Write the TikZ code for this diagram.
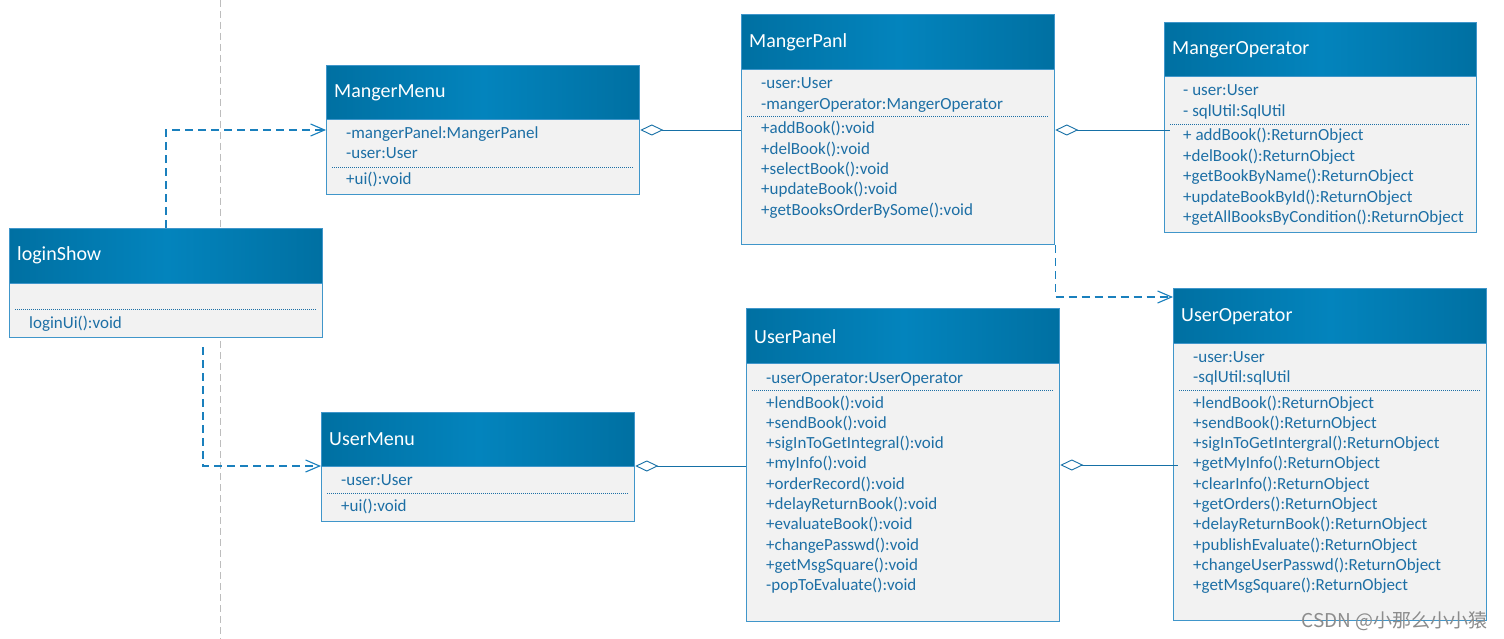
\documentclass[tikz,border=0pt]{standalone}
\usepackage{fontspec}
\setmainfont{Carlito}
\newfontfamily\cjkfont{Noto Sans CJK SC}
\usetikzlibrary{arrows.meta,calc}
\definecolor{boxline}{HTML}{4096CA}
\definecolor{hedge}{HTML}{0070A2}
\definecolor{hmid}{HTML}{0384BD}
\definecolor{bodyfill}{HTML}{F2F2F2}
\definecolor{txt}{HTML}{1D6FA5}
\definecolor{conn}{HTML}{1A80BD}
\definecolor{aggc}{HTML}{1670A6}
\definecolor{guide}{HTML}{BDBDBD}
\begin{document}
\begin{tikzpicture}[x=1pt,y=-1pt,
  hdr/.style={rectangle, draw=boxline, line width=1.3pt, left color=hedge, right color=hedge, middle color=hmid, inner sep=0pt, anchor=north west},
  bodybox/.style={rectangle, draw=boxline, line width=1.3pt, fill=bodyfill, inner sep=0pt, anchor=north west},
  ttl/.style={text=white, font=\fontsize{20}{24}\selectfont, anchor=west, inner sep=0pt},
  mem/.style={text=txt, font=\fontsize{17}{20}\selectfont, anchor=base west, inner sep=0pt},
  sep/.style={draw=txt, line width=0.7pt, dash pattern=on 1pt off 1pt},
  dep/.style={draw=conn, line width=1.1pt, dash pattern=on 8pt off 5pt, -{Straight Barb[length=14pt,width=12pt]}},
  agg/.style={draw=aggc, line width=0.9pt, {Diamond[open,length=23pt,width=11pt,fill=white]}-}
]
\useasboundingbox (0,0) rectangle (1504,639);
\fill[white] (0,0) rectangle (1504,639);
% guide line
\draw[guide, line width=1pt, dash pattern=on 7pt off 4pt] (220,0) -- (220,639);

% ---------- loginShow
\node[hdr, minimum width=313pt, minimum height=55pt] (ls-h) at (9,228) {};
\node[ttl] (ls-t) at (17,255.5) {loginShow};
\node[bodybox, minimum width=313pt, minimum height=54pt] (ls-b) at (9,283) {};
\draw[sep] (15,309) -- (316,309);
\node[mem] (ls-m1) at (29,328) {loginUi():void};

% ---------- MangerMenu
\node[hdr, minimum width=313pt, minimum height=54pt] (mm-h) at (326,65) {};
\node[ttl] (mm-t) at (334,92.5) {MangerMenu};
\node[bodybox, minimum width=313pt, minimum height=75pt] (mm-b) at (326,119) {};
\node[mem] (mm-a1) at (346,139) {-mangerPanel:MangerPanel};
\node[mem] (mm-a2) at (346,159) {-user:User};
\draw[sep] (332,167) -- (633,167);
\node[mem] (mm-m1) at (346,185) {+ui():void};

% ---------- MangerPanl
\node[hdr, minimum width=313pt, minimum height=55pt] (mp-h) at (741,14) {};
\node[ttl] (mp-t) at (749,42.5) {MangerPanl};
\node[bodybox, minimum width=313pt, minimum height=175pt] (mp-b) at (741,69) {};
\foreach \t [count=\i] in {-user:User,-mangerOperator:MangerOperator}
  \node[mem, name=mp-a\i] at (761,{89+(\i-1)*20.3}) {\t};
\draw[sep] (747,116) -- (1048,116);
\foreach \t [count=\i] in {+addBook():void,+delBook():void,+selectBook():void,+updateBook():void,+getBooksOrderBySome():void}
  \node[mem, name=mp-m\i] at (761,{134+(\i-1)*20.3}) {\t};

% ---------- MangerOperator
\node[hdr, minimum width=312pt, minimum height=54pt] (mo-h) at (1164,22) {};
\node[ttl] (mo-t) at (1172,49.5) {MangerOperator};
\node[bodybox, minimum width=312pt, minimum height=156pt] (mo-b) at (1164,76) {};
\foreach \t [count=\i] in {- user:User,- sqlUtil:SqlUtil}
  \node[mem, name=mo-a\i] at (1183,{96+(\i-1)*20.3}) {\t};
\draw[sep] (1170,124) -- (1470,124);
\foreach \t [count=\i] in {+ addBook():ReturnObject,+delBook():ReturnObject,+getBookByName():ReturnObject,+updateBookById():ReturnObject,+getAllBooksByCondition():ReturnObject}
  \node[mem, name=mo-m\i] at (1183,{141+(\i-1)*20.4}) {\t};

% ---------- UserMenu
\node[hdr, minimum width=313pt, minimum height=54pt] (um-h) at (321,412) {};
\node[ttl] (um-t) at (329,439.5) {UserMenu};
\node[bodybox, minimum width=313pt, minimum height=55pt] (um-b) at (321,466) {};
\node[mem] (um-a1) at (341,485) {-user:User};
\draw[sep] (327,493) -- (628,493);
\node[mem] (um-m1) at (341,511) {+ui():void};

% ---------- UserPanel
\node[hdr, minimum width=313pt, minimum height=55pt] (up-h) at (746,308) {};
\node[ttl] (up-t) at (754,336.5) {UserPanel};
\node[bodybox, minimum width=313pt, minimum height=258pt] (up-b) at (746,363) {};
\node[mem] (up-a1) at (766,383) {-userOperator:UserOperator};
\draw[sep] (752,390) -- (1053,390);
\foreach \t [count=\i] in {+lendBook():void,+sendBook():void,+sigInToGetIntegral():void,+myInfo():void,+orderRecord():void,+delayReturnBook():void,+evaluateBook():void,+changePasswd():void,+getMsgSquare():void,-popToEvaluate():void}
  \node[mem, name=up-m\i] at (766,{408+(\i-1)*20.33}) {\t};

% ---------- UserOperator
\node[hdr, minimum width=313pt, minimum height=55pt] (uo-h) at (1173,288) {};
\node[ttl] (uo-t) at (1181,316.5) {UserOperator};
\node[bodybox, minimum width=313pt, minimum height=277pt] (uo-b) at (1173,343) {};
\foreach \t [count=\i] in {-user:User,-sqlUtil:sqlUtil}
  \node[mem, name=uo-a\i] at (1193,{362+(\i-1)*20.5}) {\t};
\draw[sep] (1179,390) -- (1480,390);
\foreach \t [count=\i] in {+lendBook():ReturnObject,+sendBook():ReturnObject,+sigInToGetIntergral():ReturnObject,+getMyInfo():ReturnObject,+clearInfo():ReturnObject,+getOrders():ReturnObject,+delayReturnBook():ReturnObject,+publishEvaluate():ReturnObject,+changeUserPasswd():ReturnObject,+getMsgSquare():ReturnObject}
  \node[mem, name=uo-m\i] at (1193,{408+(\i-1)*20.33}) {\t};

% ---------- connectors
\coordinate (d1s) at ([xshift=157pt]ls-h.north west);
\coordinate (d1e) at ([yshift=-11pt]mm-b.north west);
\draw[dep] (d1s) |- (d1e);
\coordinate (d2s) at ([xshift=194pt,yshift=-9pt]ls-b.south west);
\draw[dep] (d2s) |- (um-b.north west);
\coordinate (d3e) at ([yshift=-9pt]uo-h.north west);
\draw[dep] (mp-b.south east) |- (d3e);

\coordinate (g1) at ([yshift=-11pt]mm-b.north east);
\draw[agg] (g1) -- (g1 -| mp-b.west);
\coordinate (g2) at ([yshift=-61pt]mp-b.north east);
\draw[agg] (g2) -- ([xshift=6pt]g2 -| mo-b.west);
\coordinate (g3) at (um-b.north east);
\draw[agg] (g3) -- (g3 -| up-b.west);
\coordinate (g4) at ([yshift=-102pt]up-b.north east);
\draw[agg] (g4) -- ([xshift=5pt]g4 -| uo-b.west);

% watermark
\node[text=black!45, font=\fontsize{19}{22}\selectfont, anchor=east, inner sep=0pt] (wm) at (1488,621) {\cjkfont CSDN @小那么小小猿};
\end{tikzpicture}
\end{document}
